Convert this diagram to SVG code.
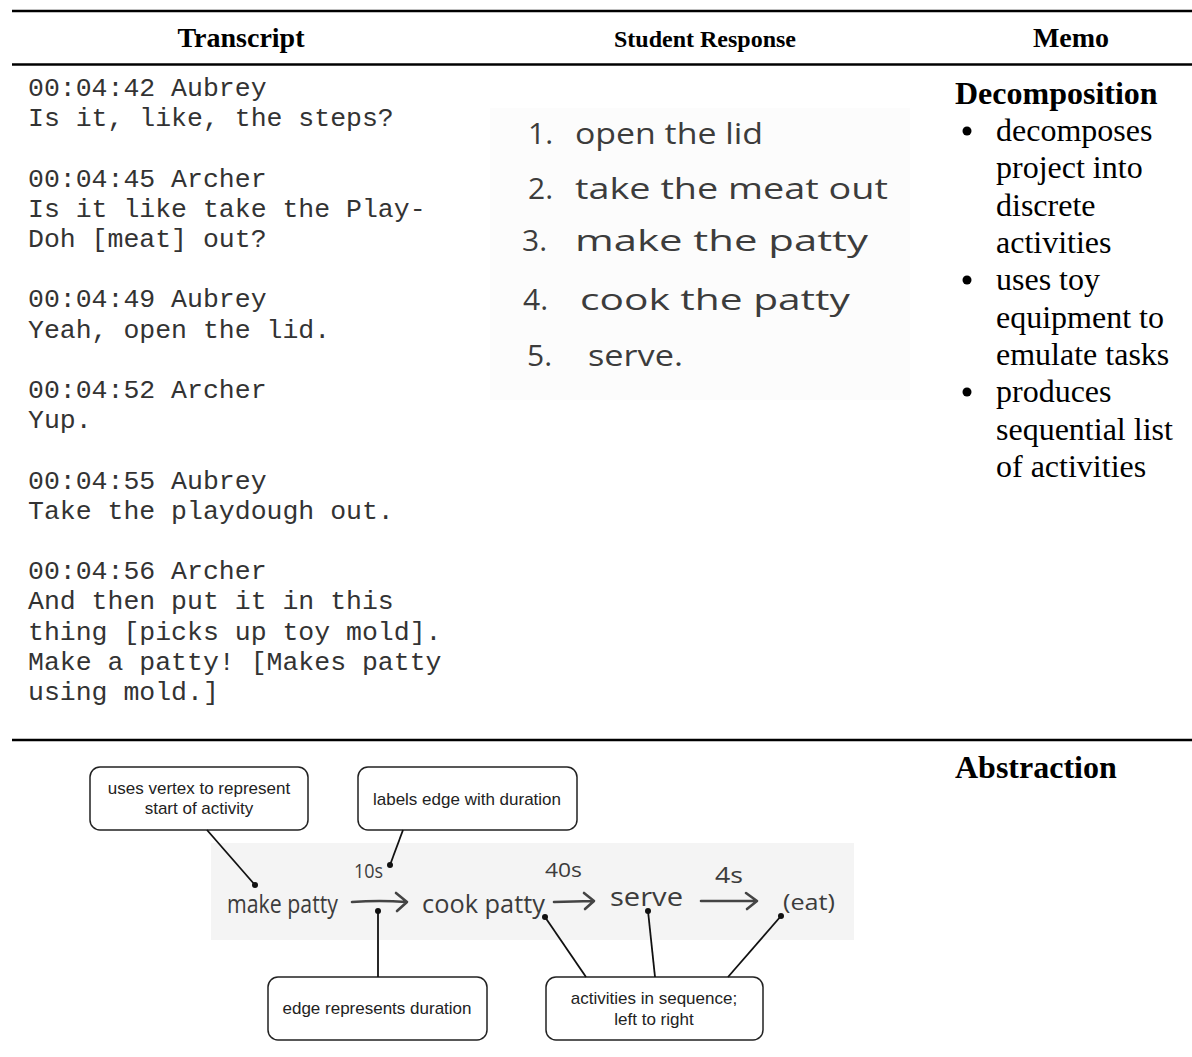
<svg xmlns="http://www.w3.org/2000/svg" width="1192" height="1057" viewBox="0 0 1192 1057">
<style>
.rule{stroke:#000;stroke-width:2.4}
.hdr{font-family:"Liberation Serif","Times New Roman",serif;font-weight:bold;fill:#000;text-anchor:middle}
.mono{font-family:"Liberation Mono","Courier New",monospace;font-size:26.5px;fill:#333}
.memo{font-family:"Liberation Serif","Times New Roman",serif;font-size:32px;fill:#000}
.memoh{font-family:"Liberation Serif","Times New Roman",serif;font-size:32px;font-weight:bold;fill:#000}
.hand{font-family:"Open Sans","DejaVu Sans",sans-serif;font-weight:400;fill:#3c3c3c}
.box{fill:#fff;stroke:#222;stroke-width:1.5}
.lbl{font-family:"Liberation Sans",Arial,sans-serif;font-size:17px;fill:#222;text-anchor:middle}
.conn{stroke:#111;stroke-width:1.8;fill:none}
.arr{stroke:#444;stroke-width:2.6;fill:none;stroke-linecap:round;stroke-linejoin:round}
.dot{fill:#111}
</style>
<rect width="1192" height="1057" fill="#fff"/>
<line class="rule" x1="12" y1="11" x2="1192" y2="11"/>
<line class="rule" x1="12" y1="64.5" x2="1192" y2="64.5"/>
<line class="rule" x1="12" y1="740" x2="1192" y2="740"/>
<g id="header">
<text class="hdr" x="241" y="47" font-size="28">Transcript</text>
<text class="hdr" x="705" y="47" font-size="24">Student Response</text>
<text class="hdr" x="1071" y="47" font-size="28">Memo</text>
</g>
<g id="transcript" class="mono">
<text x="28" y="96">00:04:42 Aubrey</text>
<text x="28" y="126.2">Is it, like, the steps?</text>
<text x="28" y="186.6">00:04:45 Archer</text>
<text x="28" y="216.8">Is it like take the Play-</text>
<text x="28" y="247">Doh [meat] out?</text>
<text x="28" y="307.4">00:04:49 Aubrey</text>
<text x="28" y="337.6">Yeah, open the lid.</text>
<text x="28" y="398">00:04:52 Archer</text>
<text x="28" y="428.2">Yup.</text>
<text x="28" y="488.6">00:04:55 Aubrey</text>
<text x="28" y="518.8">Take the playdough out.</text>
<text x="28" y="579.2">00:04:56 Archer</text>
<text x="28" y="609.4">And then put it in this</text>
<text x="28" y="639.6">thing [picks up toy mold].</text>
<text x="28" y="669.8">Make a patty! [Makes patty</text>
<text x="28" y="700">using mold.]</text>
</g>
<g id="student-response">
<rect x="490" y="108" width="420" height="292" fill="#fcfcfc"/>
<g class="hand" font-size="30">
<text x="528" y="144">1.</text>
<text x="575" y="144" textLength="188" lengthAdjust="spacingAndGlyphs">open the lid</text>
<text x="528" y="199">2.</text>
<text x="575" y="199" textLength="313" lengthAdjust="spacingAndGlyphs">take the meat out</text>
<text x="522" y="251">3.</text>
<text x="575" y="251" textLength="293" lengthAdjust="spacingAndGlyphs">make the patty</text>
<text x="523" y="310">4.</text>
<text x="580" y="310" textLength="270" lengthAdjust="spacingAndGlyphs">cook the patty</text>
<text x="527" y="366">5.</text>
<text x="588" y="366" textLength="95" lengthAdjust="spacingAndGlyphs">serve.</text>
</g>
</g>
<g id="memo-decomposition">
<text class="memoh" x="955" y="104">Decomposition</text>
<circle cx="967" cy="131" r="4.5" fill="#000"/>
<circle cx="967" cy="280" r="4.5" fill="#000"/>
<circle cx="967" cy="392" r="4.5" fill="#000"/>
<g class="memo">
<text x="996" y="141">decomposes</text>
<text x="996" y="178.3">project into</text>
<text x="996" y="215.6">discrete</text>
<text x="996" y="253">activities</text>
<text x="996" y="290.2">uses toy</text>
<text x="996" y="327.6">equipment to</text>
<text x="996" y="364.9">emulate tasks</text>
<text x="996" y="402.2">produces</text>
<text x="996" y="439.5">sequential list</text>
<text x="996" y="477">of activities</text>
</g>
</g>
<g id="memo-abstraction">
<text class="memoh" x="955" y="778">Abstraction</text>
</g>
<g id="abstraction-graph">
<rect x="211" y="843" width="643" height="97" fill="#f4f4f4"/>
<g class="hand">
<text x="227" y="913" font-size="25" textLength="111" lengthAdjust="spacingAndGlyphs">make patty</text>
<text x="354" y="878" font-size="20" textLength="29" lengthAdjust="spacingAndGlyphs">10s</text>
<text x="422" y="913" font-size="25" textLength="123" lengthAdjust="spacingAndGlyphs">cook patty</text>
<text x="545" y="877" font-size="20" textLength="37" lengthAdjust="spacingAndGlyphs">40s</text>
<text x="610" y="906" font-size="25" textLength="73" lengthAdjust="spacingAndGlyphs">serve</text>
<text x="715" y="883" font-size="22" textLength="28" lengthAdjust="spacingAndGlyphs">4s</text>
<text x="783" y="910" font-size="22" textLength="52" lengthAdjust="spacingAndGlyphs">(eat)</text>
</g>
<path class="arr" d="M352 902 Q380 900 406 902 M396 893 L407 902 L397 911"/>
<path class="arr" d="M554 902 L593 901 M584 893 L594 901 L585 909"/>
<path class="arr" d="M701 901 L756 901 M746 893 L757 901 L747 909"/>
</g>
<g id="callout-vertex">
<rect class="box" x="90" y="767" width="218" height="63" rx="10"/>
<text class="lbl" x="199" y="794">uses vertex to represent</text>
<text class="lbl" x="199" y="814">start of activity</text>
</g>
<g id="callout-labels">
<rect class="box" x="358" y="767" width="219" height="63" rx="10"/>
<text class="lbl" x="467" y="805">labels edge with duration</text>
</g>
<g id="callout-edge">
<rect class="box" x="268" y="977" width="219" height="63" rx="10"/>
<text class="lbl" x="377" y="1014">edge represents duration</text>
</g>
<g id="callout-sequence">
<rect class="box" x="546" y="977" width="217" height="63" rx="10"/>
<text class="lbl" x="654" y="1004">activities in sequence;</text>
<text class="lbl" x="654" y="1025">left to right</text>
</g>
<g id="connectors">
<line class="conn" x1="207" y1="830" x2="255" y2="885"/>
<circle class="dot" cx="255" cy="885" r="3"/>
<line class="conn" x1="403" y1="830" x2="390" y2="865"/>
<circle class="dot" cx="390" cy="865" r="3"/>
<line class="conn" x1="378" y1="977" x2="378" y2="911"/>
<circle class="dot" cx="378" cy="911" r="3"/>
<line class="conn" x1="586" y1="977" x2="545" y2="917"/>
<circle class="dot" cx="545" cy="917" r="3"/>
<line class="conn" x1="655" y1="977" x2="648" y2="911"/>
<circle class="dot" cx="648" cy="911" r="3"/>
<line class="conn" x1="728" y1="977" x2="781" y2="916"/>
<circle class="dot" cx="781" cy="916" r="3"/>
</g>
</svg>
